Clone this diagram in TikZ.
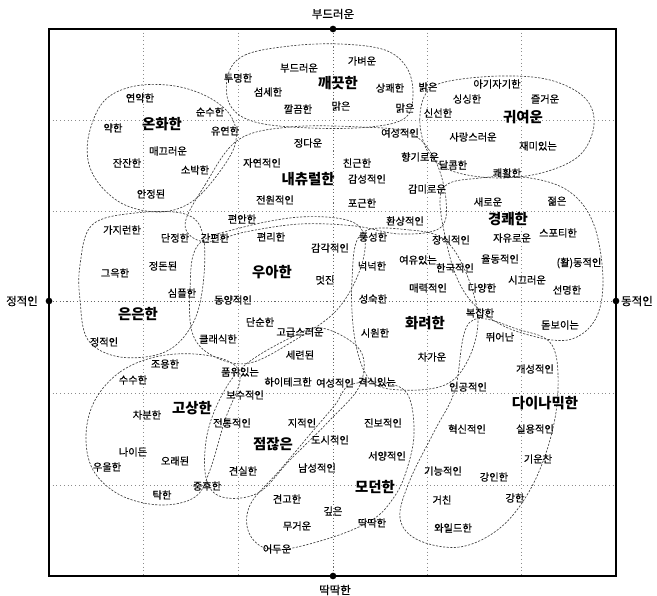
\documentclass[tikz,border=0pt]{standalone}
\usepackage{fontspec}
\setmainfont{Noto Sans CJK KR}
\newfontfamily\krmed{Noto Sans CJK KR}[FakeBold=0.5]
\tikzset{
  lb/.style={inner sep=0pt, font=\krmed\fontsize{7.7}{8}\selectfont},
  cl/.style={inner sep=0pt, font=\bfseries\fontsize{10.8}{11}\selectfont},
  ax/.style={inner sep=0pt, font=\krmed\fontsize{8.6}{9}\selectfont},
  blob/.style={draw=black!75, line width=0.5pt, dash pattern=on 1.6pt off 1.1pt},
  grid/.style={draw=black!45, line width=0.4pt, dash pattern=on 0.6pt off 2.2pt},
  cgrid/.style={draw=black!60, line width=0.5pt, dash pattern=on 0.8pt off 1.8pt},
  frame/.style={draw=black, line width=1.1pt},
  enddot/.style={circle, fill=black, inner sep=0pt, minimum size=5pt}
}
\begin{document}
\begin{tikzpicture}[x=0.75pt, y=-0.75pt]
\useasboundingbox (0,0) rectangle (657,596);
% grid
\foreach \gx in {143.5,238,427,521.5} \draw[grid] (\gx,29) -- (\gx,576);
\foreach \gy in {120.2,211.3,393.7,484.8} \draw[grid] (49,\gy) -- (616,\gy);
% frame and end points
\coordinate (tl) at (49,29);
\coordinate (br) at (616,576);
\draw[frame] (tl) rectangle (br);
\node[enddot] (dtop) at (333,29) {};
\node[enddot] (dbot) at (333,576) {};
\node[enddot] (dlef) at (49,301) {};
\node[enddot] (drig) at (616,301) {};
\draw[cgrid] (dtop) -- (dbot);
\draw[cgrid] (dlef) -- (drig);
\node[ax] (axt) at (333,14) {부드러운};
\node[ax] (axb) at (335,590) {딱딱한};
\node[ax] (axl) at (22,301) {정적인};
\node[ax] (axr) at (637,301) {동적인};
% blobs
\draw[blob] plot[smooth cycle, tension=0.6] coordinates {(90,130) (105,100) (135,86) (175,86) (210,98) (232,118) (235,145) (215,178) (190,203) (160,212) (125,205) (100,185) (88,160)};
\draw[blob] plot[smooth cycle, tension=0.6] coordinates {(228,75) (245,55) (290,46) (340,44) (385,50) (407,68) (413,95) (405,118) (370,127) (310,128) (255,122) (230,105)};
\draw[blob] plot[smooth cycle, tension=0.6] coordinates {(425,95) (445,82) (500,76) (550,80) (585,98) (594,125) (580,155) (545,172) (500,178) (455,172) (430,155) (420,125)};
\draw[blob] plot[smooth cycle, tension=0.6] coordinates {(185,225) (205,185) (238,140) (290,127) (360,127) (410,133) (435,160) (446,200) (440,228) (400,234) (355,226) (300,224) (245,232) (205,242)};
\draw[blob] plot[smooth cycle, tension=0.6] coordinates {(80,265) (92,225) (135,213) (185,214) (203,235) (203,285) (192,325) (165,352) (120,357) (88,340) (80,300)};
\draw[blob] plot[smooth cycle, tension=0.6] coordinates {(198,245) (240,228) (300,217) (350,221) (365,240) (358,275) (335,312) (295,340) (250,363) (215,357) (193,335) (190,290)};
\draw[blob] plot[smooth cycle, tension=0.6] coordinates {(362,233) (410,230) (445,240) (467,275) (478,320) (468,360) (445,385) (400,390) (370,380) (355,340) (352,280)};
\draw[blob] plot[smooth cycle, tension=0.6] coordinates {(442,190) (480,178) (530,178) (570,192) (594,225) (603,280) (595,320) (568,340) (525,334) (490,318) (463,290) (447,245)};
\draw[blob] plot[smooth cycle, tension=0.6] coordinates {(470,322) (520,330) (552,345) (558,390) (550,440) (530,490) (500,528) (460,547) (418,540) (400,518) (410,480) (435,430) (455,390)};
\draw[blob] plot[smooth cycle, tension=0.6] coordinates {(350,385) (385,383) (408,395) (414,435) (405,475) (392,500) (372,520) (330,538) (275,550) (250,535) (250,505) (280,470) (312,432) (335,405)};
\draw[blob] plot[smooth cycle, tension=0.6] coordinates {(245,365) (290,338) (322,328) (360,350) (360,385) (330,420) (290,460) (258,493) (222,497) (206,478) (207,435) (222,395)};
\draw[blob] plot[smooth cycle, tension=0.6] coordinates {(95,400) (120,372) (155,357) (195,354) (230,362) (240,380) (225,420) (210,470) (195,497) (160,505) (120,495) (93,470) (86,435)};
% cluster names
\node[cl] (c01) at (162,124) {온화한};
\node[cl] (c02) at (338,83) {깨끗한};
\node[cl] (c03) at (523,117) {귀여운};
\node[cl] (c04) at (308,179) {내츄럴한};
\node[cl] (c05) at (508,219) {경쾌한};
\node[cl] (c06) at (272,272) {우아한};
\node[cl] (c07) at (138,314) {은은한};
\node[cl] (c08) at (425,323) {화려한};
\node[cl] (c09) at (192,408) {고상한};
\node[cl] (c10) at (273,444) {점잖은};
\node[cl] (c11) at (375,487) {모던한};
\node[cl] (c12) at (545,403) {다이나믹한};
% words
\node[lb] (w001) at (140,98) {연약한};
\node[lb] (w002) at (210,112) {순수한};
\node[lb] (w003) at (113,128) {약한};
\node[lb] (w004) at (225,131) {유연한};
\node[lb] (w005) at (168,151) {매끄러운};
\node[lb] (w006) at (127,163) {잔잔한};
\node[lb] (w007) at (195,170) {소박한};
\node[lb] (w008) at (151,194) {안정된};
\node[lb] (w009) at (238,78) {투명한};
\node[lb] (w010) at (362,61) {가벼운};
\node[lb] (w011) at (299,68) {부드러운};
\node[lb] (w012) at (268,92) {섬세한};
\node[lb] (w013) at (390,88) {상쾌한};
\node[lb] (w014) at (428,87) {밝은};
\node[lb] (w015) at (298,109) {깔끔한};
\node[lb] (w016) at (341,106) {맑은};
\node[lb] (w017) at (405,108) {맑은};
\node[lb] (w018) at (400,133) {여성적인};
\node[lb] (w019) at (308,143) {정다운};
\node[lb] (w020) at (420,157) {향기로운};
\node[lb] (w021) at (262,163) {자연적인};
\node[lb] (w022) at (357,163) {친근한};
\node[lb] (w023) at (367,179) {감성적인};
\node[lb] (w024) at (427,189) {감미로운};
\node[lb] (w025) at (497,84) {아기자기한};
\node[lb] (w026) at (467,99) {싱싱한};
\node[lb] (w027) at (545,99) {즐거운};
\node[lb] (w028) at (438,113) {신선한};
\node[lb] (w029) at (473,137) {사랑스러운};
\node[lb] (w030) at (538,146) {재미있는};
\node[lb] (w031) at (453,165) {달콤한};
\node[lb] (w032) at (507,173) {쾌활한};
\node[lb] (w033) at (275,200) {전원적인};
\node[lb] (w034) at (362,203) {포근한};
\node[lb] (w035) at (242,219) {편안한};
\node[lb] (w036) at (405,221) {환상적인};
\node[lb] (w037) at (215,238) {간편한};
\node[lb] (w038) at (271,237) {편리한};
\node[lb] (w039) at (175,238) {단정한};
\node[lb] (w040) at (373,237) {풍성한};
\node[lb] (w041) at (330,248) {감각적인};
\node[lb] (w042) at (372,266) {넉넉한};
\node[lb] (w043) at (418,260) {여유있는};
\node[lb] (w044) at (325,280) {멋진};
\node[lb] (w045) at (428,288) {매력적인};
\node[lb] (w046) at (233,300) {동양적인};
\node[lb] (w047) at (373,299) {성숙한};
\node[lb] (w048) at (260,322) {단순한};
\node[lb] (w049) at (300,332) {고급스러운};
\node[lb] (w050) at (218,339) {클래식한};
\node[lb] (w051) at (375,333) {시원한};
\node[lb] (w052) at (300,355) {세련된};
\node[lb] (w053) at (432,357) {차가운};
\node[lb] (w054) at (240,372) {품위있는};
\node[lb] (w055) at (288,382) {하이테크한};
\node[lb] (w056) at (335,383) {여성적인};
\node[lb] (w057) at (377,382) {격식있는};
\node[lb] (w058) at (488,202) {새로운};
\node[lb] (w059) at (557,201) {젊은};
\node[lb] (w060) at (451,240) {장식적인};
\node[lb] (w061) at (512,238) {자유로운};
\node[lb] (w062) at (558,233) {스포티한};
\node[lb] (w063) at (500,259) {율동적인};
\node[lb] (w064) at (579,263) {(활)동적인};
\node[lb] (w065) at (455,268) {한국적인};
\node[lb] (w066) at (527,280) {시끄러운};
\node[lb] (w067) at (482,288) {다양한};
\node[lb] (w068) at (567,290) {선명한};
\node[lb] (w069) at (480,313) {복잡한};
\node[lb] (w070) at (560,325) {돋보이는};
\node[lb] (w071) at (500,337) {뛰어난};
\node[lb] (w072) at (535,369) {개성적인};
\node[lb] (w073) at (468,387) {인공적인};
\node[lb] (w074) at (467,429) {혁신적인};
\node[lb] (w075) at (535,429) {실용적인};
\node[lb] (w076) at (538,459) {기운찬};
\node[lb] (w077) at (443,471) {기능적인};
\node[lb] (w078) at (494,477) {강인한};
\node[lb] (w079) at (442,500) {거친};
\node[lb] (w080) at (515,498) {강한};
\node[lb] (w081) at (453,528) {와일드한};
\node[lb] (w082) at (245,395) {보수적인};
\node[lb] (w083) at (232,423) {전통적인};
\node[lb] (w084) at (302,423) {지적인};
\node[lb] (w085) at (383,423) {진보적인};
\node[lb] (w086) at (330,440) {도시적인};
\node[lb] (w087) at (387,456) {서양적인};
\node[lb] (w088) at (243,471) {견실한};
\node[lb] (w089) at (317,468) {남성적인};
\node[lb] (w090) at (287,499) {견고한};
\node[lb] (w091) at (333,511) {깊은};
\node[lb] (w092) at (372,523) {딱딱한};
\node[lb] (w093) at (297,526) {무거운};
\node[lb] (w094) at (277,549) {어두운};
\node[lb] (w095) at (165,364) {조용한};
\node[lb] (w096) at (133,380) {수수한};
\node[lb] (w097) at (147,415) {차분한};
\node[lb] (w098) at (133,452) {나이든};
\node[lb] (w099) at (175,461) {오래된};
\node[lb] (w100) at (107,467) {우울한};
\node[lb] (w101) at (207,486) {중후한};
\node[lb] (w102) at (162,495) {탁한};
\node[lb] (w103) at (122,230) {가지런한};
\node[lb] (w104) at (115,273) {그윽한};
\node[lb] (w105) at (163,266) {정돈된};
\node[lb] (w106) at (182,293) {심플한};
\node[lb] (w107) at (104,342) {정적인};
\end{tikzpicture}
\end{document}
